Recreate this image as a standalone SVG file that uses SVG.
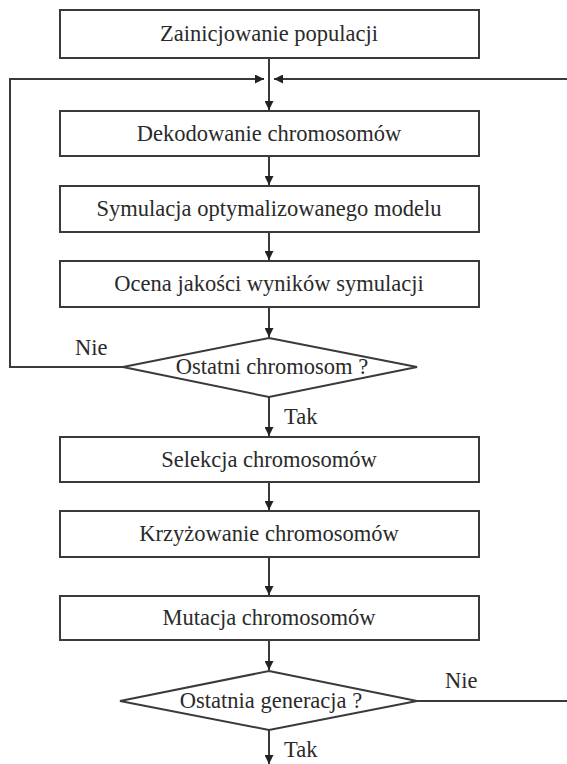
<svg xmlns="http://www.w3.org/2000/svg" width="567" height="764" viewBox="0 0 567 764">
<defs>
<marker id="ah" viewBox="0 0 10 10" refX="10" refY="5" markerWidth="10" markerHeight="9" markerUnits="userSpaceOnUse" orient="auto">
<path d="M0,0 L10,5 L0,10 Z" fill="#222"/>
</marker>
<style>
.box{fill:#fff;stroke:#3a3a3a;stroke-width:2}
.c{fill:none;stroke:#3a3a3a;stroke-width:2}
</style>
</defs>
<rect width="567" height="764" fill="#fff"/>
<g id="connectors">
<path class="c" d="M269,58 V110" marker-end="url(#ah)"/>
<path class="c" d="M123,367 H10 V79 H264" marker-end="url(#ah)"/>
<path class="c" d="M417,701 H580 V79 H274" marker-end="url(#ah)"/>
<path class="c" d="M269,156 V185" marker-end="url(#ah)"/>
<path class="c" d="M269,232 V260" marker-end="url(#ah)"/>
<path class="c" d="M269,307 V337" marker-end="url(#ah)"/>
<path class="c" d="M269,397 V436" marker-end="url(#ah)"/>
<path class="c" d="M269,482 V510" marker-end="url(#ah)"/>
<path class="c" d="M269,557 V595" marker-end="url(#ah)"/>
<path class="c" d="M269,640 V670" marker-end="url(#ah)"/>
<path class="c" d="M269,730 V764" marker-end="url(#ah)"/>
</g>
<g font-family="Liberation Serif, Times New Roman, serif" font-size="22.5" fill="#2a2a2a">
<g text-anchor="middle">
<g id="n1"><rect class="box" x="60" y="10" width="419" height="48"/><text x="269" y="41">Zainicjowanie populacji</text></g>
<g id="n2"><rect class="box" x="60" y="111" width="419" height="45"/><text x="269" y="141">Dekodowanie chromosomów</text></g>
<g id="n3"><rect class="box" x="60" y="186" width="419" height="46"/><text x="269" y="216">Symulacja optymalizowanego modelu</text></g>
<g id="n4"><rect class="box" x="60" y="261" width="419" height="46"/><text x="269" y="291">Ocena jakości wyników symulacji</text></g>
<g id="n5"><polygon class="box" points="269,338 417,367 269,397 123,367"/><text x="272" y="374">Ostatni chromosom ?</text></g>
<g id="n6"><rect class="box" x="60" y="437" width="419" height="45"/><text x="269" y="467">Selekcja chromosomów</text></g>
<g id="n7"><rect class="box" x="60" y="511" width="419" height="46"/><text x="269" y="541">Krzyżowanie chromosomów</text></g>
<g id="n8"><rect class="box" x="60" y="596" width="419" height="44"/><text x="269" y="625">Mutacja chromosomów</text></g>
<g id="n9"><polygon class="box" points="269,671 417,701 269,730 120,701"/><text x="271" y="708">Ostatnia generacja ?</text></g>
</g>
<g id="labels">
<text x="75" y="355">Nie</text>
<text x="284" y="424">Tak</text>
<text x="445" y="688">Nie</text>
<text x="284" y="757">Tak</text>
</g>
</g>
</svg>
